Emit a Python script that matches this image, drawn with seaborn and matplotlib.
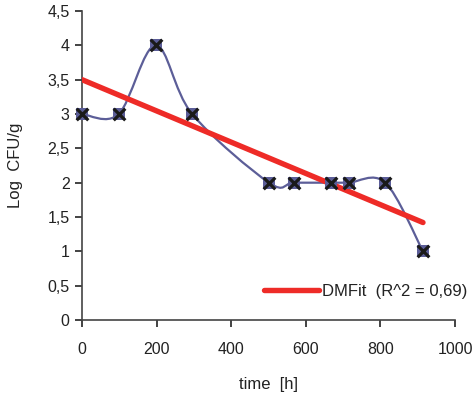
import numpy as np
import pandas as pd
import matplotlib
matplotlib.use("Agg")
import matplotlib.pyplot as plt
from matplotlib.path import Path
from matplotlib.patches import PathPatch
import seaborn as sns

# ---- data ----
time_h = [0, 98, 197, 295, 501, 567, 667, 715, 813, 914]
log_cfu = [3, 3, 4, 3, 2, 2, 2, 2, 2, 1]
fit_intercept = 3.5
fit_slope = -0.002276
fit_label = "DMFit  (R^2 = 0,69)"
x_ticks = [0, 200, 400, 600, 800, 1000]
y_ticks = [0, 0.5, 1, 1.5, 2, 2.5, 3, 3.5, 4, 4.5]
y_tick_labels = ["0", "0,5", "1", "1,5", "2", "2,5", "3", "3,5", "4", "4,5"]

sns.set_style("ticks")
plt.rcParams["font.family"] = ["Liberation Sans", "DejaVu Sans"]

fig = plt.figure(figsize=(4.75, 3.96), dpi=100)
ax = fig.add_axes([0.173, 0.192, 0.785, 0.780])

curve_color = "#5c5e98"
red = "#ee2b27"
text_color = "#222222"

# smoothed (Excel-like Bezier) curve through the data
pts = np.column_stack([time_h, log_cfu]).astype(float)
n = len(pts)
verts = [tuple(pts[0])]
codes = [Path.MOVETO]
for i in range(n - 1):
    p0 = pts[i - 1] if i > 0 else pts[i]
    p1 = pts[i]
    p2 = pts[i + 1]
    p3 = pts[i + 2] if i + 2 < n else pts[i + 1]
    c1 = p1 + (p2 - p0) / 6.0
    c2 = p2 - (p3 - p1) / 6.0
    verts += [tuple(c1), tuple(c2), tuple(p2)]
    codes += [Path.CURVE4] * 3
ax.add_patch(PathPatch(Path(verts, codes), facecolor="none",
                       edgecolor=curve_color, lw=1.6, zorder=2))

# fit line
fit_x = np.array([time_h[0], time_h[-1]], dtype=float)
fit_df = pd.DataFrame({"t": fit_x, "y": fit_intercept + fit_slope * fit_x})
sns.lineplot(data=fit_df, x="t", y="y", color=red, lw=3.9, ax=ax,
             label=fit_label, zorder=3, solid_capstyle="round")

# markers
df = pd.DataFrame({"t": time_h, "y": log_cfu})
sns.scatterplot(data=df, x="t", y="y", marker="s", s=82, color=curve_color,
                edgecolor=curve_color, linewidth=0, ax=ax, zorder=4,
                legend=False, clip_on=False)
sns.scatterplot(data=df, x="t", y="y", marker="x", s=70, color="#1a1a1a",
                linewidth=2.3, ax=ax, zorder=5, legend=False, clip_on=False)

ax.set_xlim(0, 1000)
ax.set_ylim(0, 4.5)
ax.set_xticks(x_ticks)
ax.set_yticks(y_ticks)
ax.set_yticklabels(y_tick_labels)
ax.tick_params(axis="both", labelsize=11.5, colors=text_color, length=5,
               width=1.2, direction="out")
ax.tick_params(axis="x", pad=11)
ax.tick_params(axis="y", pad=4)
for s in ["top", "right"]:
    ax.spines[s].set_visible(False)
for s in ["left", "bottom"]:
    ax.spines[s].set_color("#444444")
    ax.spines[s].set_linewidth(1.2)

ax.set_xlabel("time  [h]", fontsize=12, color=text_color)
ax.set_ylabel("Log  CFU/g", fontsize=12, color=text_color)
ax.xaxis.set_label_coords(0.5, -0.185)
ax.yaxis.set_label_coords(-0.16, 0.5)

leg = ax.legend(loc="center left", bbox_to_anchor=(0.47, 0.093), frameon=False,
                fontsize=12, handlelength=3.3, handletextpad=0.2,
                borderaxespad=0)
for t in leg.get_texts():
    t.set_color(text_color)

fig.savefig("out.png", dpi=100)
